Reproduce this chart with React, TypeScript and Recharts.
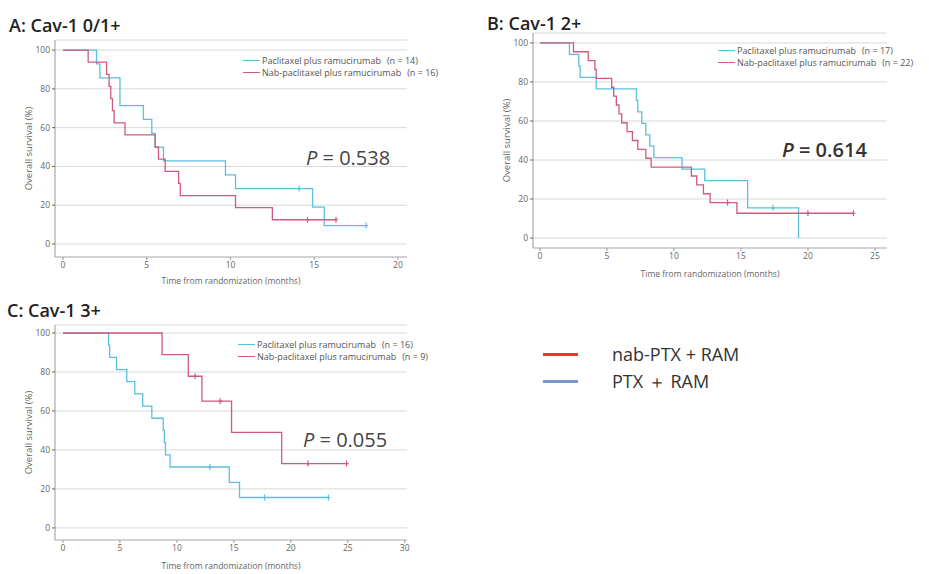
import { LineChart, Line, XAxis, YAxis, CartesianGrid } from "recharts"

// Kaplan-Meier steps: event times (months) and survival (%)
const aPtxTimes = [0, 2.0, 2.2, 3.4, 4.8, 5.3, 5.5, 6.0, 9.7, 10.3, 14.9, 15.6, 18.1]
const aPtxSurv = [100, 92.9, 85.7, 71.4, 64.3, 57.1, 50, 42.9, 35.7, 28.6, 19.0, 9.5, 9.5]
const aPtxCens = [14.1, 18.1]
const aNabTimes = [0, 1.5, 2.6, 2.75, 2.85, 2.95, 3.05, 3.7, 5.5, 5.7, 6.1, 6.9, 7.0, 10.3, 12.5, 16.3]
const aNabSurv = [100, 93.75, 87.5, 81.25, 75, 68.75, 62.5, 56.25, 50, 43.75, 37.5, 31.25, 25, 18.75, 12.5, 12.5]
const aNabCens = [14.6, 16.3]

const bPtxTimes = [0, 2.2, 2.9, 3.0, 4.2, 7.2, 7.3, 7.6, 7.9, 8.2, 8.5, 10.6, 12.3, 15.5, 19.3]
const bPtxSurv = [100, 94.1, 88.2, 82.4, 76.5, 70.6, 64.7, 58.8, 52.9, 47.1, 41.2, 35.3, 29.4, 15.5, 0]
const bPtxCens = [17.4]
const bNabTimes = [0, 2.5, 3.6, 4.1, 4.2, 5.35, 5.5, 5.7, 5.9, 6.1, 6.5, 6.9, 7.3, 7.9, 8.3, 11.3, 11.7, 12.2, 12.7, 14.7, 23.4]
const bNabSurv = [100, 95.5, 90.9, 86.4, 81.8, 77.3, 72.7, 68.2, 63.6, 59.1, 54.5, 50, 45.5, 40.9, 36.4, 31.8, 27.3, 22.7, 18.2, 12.7, 12.7]
const bNabCens = [14.0, 20.0, 23.4]

const cPtxTimes = [0, 4.0, 4.1, 4.7, 5.6, 6.3, 7.0, 7.8, 8.8, 8.9, 9.0, 9.4, 14.6, 15.5, 23.3]
const cPtxSurv = [100, 93.75, 87.5, 81.25, 75, 68.75, 62.5, 56.25, 50, 43.75, 37.5, 31.25, 23.4, 15.6, 15.6]
const cPtxCens = [12.9, 17.7, 23.3]
const cNabTimes = [0, 8.7, 11.0, 12.2, 14.8, 19.2, 24.9]
const cNabSurv = [100, 88.9, 77.8, 65, 49, 33, 33]
const cNabCens = [11.6, 13.8, 21.5, 24.9]

const yTicks = [0, 20, 40, 60, 80, 100]
const xTicksA = [0, 5, 10, 15, 20]
const xTicksB = [0, 5, 10, 15, 20, 25]
const xTicksC = [0, 5, 10, 15, 20, 25, 30]

const BLUE = "#5cbfe0"
const RED = "#cf5a7c"
const FONT = "'Open Sans', sans-serif"

function buildSeries(times: number[], surv: number[], cens: number[]) {
  const pts = times.map((t, i) => ({ t, s: surv[i], c: false }))
  cens.forEach((ct) => {
    let s = surv[0]
    times.forEach((t, i) => {
      if (t <= ct) s = surv[i]
    })
    pts.push({ t: ct, s, c: true })
  })
  pts.sort((a, b) => a.t - b.t || (a.c ? 1 : -1))
  return pts
}

const censorDot = (color: string) => (p: any) => {
  if (!p.payload || !p.payload.c) return <g key={p.index} />
  return <path key={p.index} d={`M${p.cx},${p.cy - 3}V${p.cy + 3}M${p.cx - 2},${p.cy}H${p.cx + 2}`} stroke={color} strokeWidth={1.2} />
}

interface PanelProps {
  left: number
  top: number
  margin: { top: number; right: number; bottom: number; left: number }
  xDomain: [number, number]
  yDomain: [number, number]
  xTicks: number[]
  ptx: any[]
  nab: any[]
  labelOffset: number
}

function KMPanel({ left, top, margin, xDomain, yDomain, xTicks, ptx, nab, labelOffset }: PanelProps) {
  return (
    <div style={{ position: "absolute", left, top }}>
      <LineChart width={420} height={290} margin={margin}>
        <CartesianGrid vertical={false} stroke="#d8d8d8" />
        <XAxis
          type="number"
          dataKey="t"
          domain={xDomain}
          ticks={xTicks}
          allowDataOverflow
          height={30}
          tickSize={3}
          tick={{ fontSize: 8.5, fill: "#666", fontFamily: FONT }}
          axisLine={{ stroke: "#bbb" }}
          tickLine={{ stroke: "#999" }}
          label={{ value: "Time from randomization (months)", position: "insideBottom", offset: labelOffset, fontSize: 8.5, fill: "#666", fontFamily: FONT }}
        />
        <YAxis
          type="number"
          domain={yDomain}
          ticks={yTicks}
          allowDataOverflow
          width={55}
          tickSize={3}
          tick={{ fontSize: 8.5, fill: "#666", fontFamily: FONT }}
          axisLine={{ stroke: "#999" }}
          tickLine={{ stroke: "#666" }}
          label={{ value: "Overall survival (%)", angle: -90, position: "insideLeft", offset: 29, fontSize: 9.5, fill: "#666", fontFamily: FONT, style: { textAnchor: "middle" } }}
        />
        <Line data={ptx} dataKey="s" type="stepAfter" stroke={BLUE} strokeWidth={1.3} dot={censorDot(BLUE)} activeDot={false} isAnimationActive={false} />
        <Line data={nab} dataKey="s" type="stepAfter" stroke={RED} strokeWidth={1.3} dot={censorDot(RED)} activeDot={false} isAnimationActive={false} />
      </LineChart>
    </div>
  )
}

function Txt({ x, y, size, children, weight = 400, color = "#333" }: any) {
  return (
    <div style={{ position: "absolute", left: x, top: y, fontSize: size, fontWeight: weight, color, fontFamily: FONT, whiteSpace: "nowrap", lineHeight: 1 }}>
      {children}
    </div>
  )
}

function MiniLegend({ x, y, n1, n2 }: any) {
  const row = (color: string, label: string, n: string, dy: number) => (
    <div style={{ position: "absolute", left: x, top: y + dy, display: "flex", alignItems: "center", fontFamily: FONT, fontSize: 9, color: "#555", whiteSpace: "nowrap", lineHeight: 1 }}>
      <span style={{ display: "inline-block", width: 17, height: 1.3, background: color, marginRight: 2 }} />
      <span>{label}</span>
      <span style={{ marginLeft: 6 }}>{n}</span>
    </div>
  )
  return (
    <>
      {row(BLUE, "Paclitaxel plus ramucirumab", n1, 0)}
      {row(RED, "Nab-paclitaxel plus ramucirumab", n2, 12)}
    </>
  )
}

export default function App() {
  return (
    <div style={{ position: "absolute", left: 0, top: 0, width: 929, height: 574, background: "#fff", overflow: "hidden" }}>
      <KMPanel
        left={0}
        top={0}
        margin={{ top: 40, right: 13, bottom: 3, left: 0 }}
        xDomain={[-0.48, 20.54]}
        yDomain={[-6.7, 105.2]}
        xTicks={xTicksA}
        ptx={buildSeries(aPtxTimes, aPtxSurv, aPtxCens)}
        nab={buildSeries(aNabTimes, aNabSurv, aNabCens)}
        labelOffset={3}
      />
      <KMPanel
        left={478}
        top={0}
        margin={{ top: 33, right: 11, bottom: 12, left: 0 }}
        xDomain={[-0.52, 25.9]}
        yDomain={[-5.1, 105.1]}
        xTicks={xTicksB}
        ptx={buildSeries(bPtxTimes, bPtxSurv, bPtxCens)}
        nab={buildSeries(bNabTimes, bNabSurv, bNabCens)}
        labelOffset={1}
      />
      <KMPanel
        left={0}
        top={285}
        margin={{ top: 40, right: 13, bottom: 5, left: 0 }}
        xDomain={[-0.7, 30.2]}
        yDomain={[-6.2, 104.1]}
        xTicks={xTicksC}
        ptx={buildSeries(cPtxTimes, cPtxSurv, cPtxCens)}
        nab={buildSeries(cNabTimes, cNabSurv, cNabCens)}
        labelOffset={1}
      />

      <Txt x={9} y={16} size={18} weight={600} color="#222">A: Cav-1 0/1+</Txt>
      <Txt x={487} y={14} size={18} weight={600} color="#222">B: Cav-1 2+</Txt>
      <Txt x={7} y={301} size={18} weight={600} color="#222">C: Cav-1 3+</Txt>

      <Txt x={306} y={148} size={20} color="#444"><i>P</i> = 0.538</Txt>
      <Txt x={782} y={140} size={20} weight={600} color="#333"><i>P</i> = 0.614</Txt>
      <Txt x={303} y={430} size={20} color="#444"><i>P</i> = 0.055</Txt>

      <MiniLegend x={243} y={56} n1="(n = 14)" n2="(n = 16)" />
      <MiniLegend x={718} y={46} n1="(n = 17)" n2="(n = 22)" />
      <MiniLegend x={238} y={340} n1="(n = 16)" n2="(n = 9)" />

      <div style={{ position: "absolute", left: 543, top: 353, width: 35, height: 3, background: "#ff2d2d" }} />
      <div style={{ position: "absolute", left: 543, top: 380, width: 35, height: 3, background: "#7b94d4" }} />
      <Txt x={612} y={345} size={18} color="#333">nab-PTX + RAM</Txt>
      <Txt x={612} y={372} size={18} color="#333">PTX ＋ RAM</Txt>
    </div>
  )
}
